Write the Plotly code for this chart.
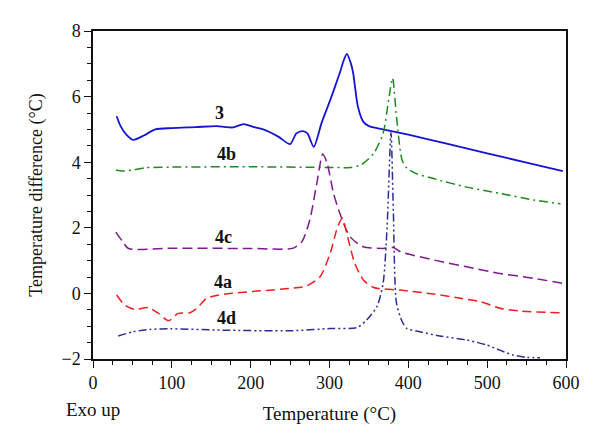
import plotly.graph_objects as go

# Curve 3
t3 = [30, 35, 42, 51, 65, 79, 100, 130, 157, 168, 178, 191, 203, 216, 235, 250, 258, 266, 272, 280, 290, 301, 313, 318, 322, 327, 330, 336, 343, 350, 360, 400, 450, 500, 550, 596]
y3 = [5.4, 5.1, 4.85, 4.68, 4.82, 5.0, 5.04, 5.07, 5.1, 5.07, 5.06, 5.16, 5.08, 5.0, 4.78, 4.55, 4.88, 4.95, 4.88, 4.47, 5.2, 5.9, 6.72, 7.1, 7.3, 7.02, 6.72, 5.7, 5.23, 5.1, 5.04, 4.84, 4.56, 4.27, 3.99, 3.73]

# Curve 4b
t4b = [29, 38, 50, 66, 100, 200, 300, 326, 340, 356, 368, 375, 380, 385, 392, 398, 410, 432, 474, 516, 559, 593]
y4b = [3.76, 3.73, 3.76, 3.83, 3.85, 3.86, 3.84, 3.84, 3.92, 4.27, 4.88, 5.9, 6.56, 5.38, 4.07, 3.82, 3.65, 3.5, 3.24, 3.05, 2.85, 2.73]

# Curve 4c
t4c = [29, 37, 45, 100, 200, 254, 265, 275, 284, 291.5, 297, 305, 313, 326, 343, 368, 381, 390, 432, 474, 516, 559, 595]
y4c = [1.87, 1.6, 1.37, 1.38, 1.37, 1.38, 1.58, 2.24, 3.37, 4.25, 3.97, 3.06, 2.45, 1.73, 1.42, 1.37, 1.40, 1.27, 1.02, 0.81, 0.61, 0.46, 0.31]

# Curve 4a
t4a = [30, 40, 53, 70, 83, 96, 108, 123, 132, 144, 165, 208, 250, 270, 288, 301, 309, 316, 324, 332, 343, 356, 390, 432, 466, 491, 516, 542, 593]
y4a = [-0.05, -0.35, -0.49, -0.43, -0.61, -0.83, -0.61, -0.59, -0.45, -0.15, -0.03, 0.07, 0.15, 0.22, 0.51, 1.23, 1.93, 2.29, 1.63, 0.92, 0.41, 0.18, 0.1, -0.02, -0.15, -0.25, -0.45, -0.54, -0.59]

# Curve 4d
t4d = [32, 51, 72, 98, 165, 250, 301, 335, 347, 360, 368, 373, 378, 381, 385, 392, 398, 415, 440, 474, 499, 516, 533, 550, 567]
y4d = [-1.30, -1.17, -1.1, -1.08, -1.12, -1.14, -1.07, -1.04, -0.81, -0.41, 0.31, 2.0, 4.9, 2.5, -0.3, -0.85, -1.07, -1.17, -1.3, -1.42, -1.57, -1.73, -1.88, -1.95, -1.96]

labels = ["3", "4b", "4c", "4a", "4d"]
label_x = [160, 169, 165, 165, 169]
label_y = [5.5, 4.25, 1.72, 0.35, -0.75]

series = [
    (t3, y3, "#1414d2", "solid", 1.8),
    (t4b, y4b, "#1f8a1f", "9px,4px,2px,4px", 1.5),
    (t4c, y4c, "#7d1a8c", "10px,5px", 1.5),
    (t4a, y4a, "#f01e1e", "9px,5px", 1.5),
    (t4d, y4d, "#2d2d96", "8px,3px,2px,3px,2px,3px", 1.5),
]

fig = go.Figure()
for xs, ys, col, dash, w in series:
    fig.add_trace(go.Scatter(x=xs, y=ys, mode="lines",
                             line=dict(color=col, width=w, dash=dash, shape="spline", smoothing=0.7),
                             showlegend=False, hoverinfo="skip"))

FONT = "Liberation Serif"
for lab, lx, ly in zip(labels, label_x, label_y):
    fig.add_annotation(x=lx, y=ly, text="<b>%s</b>" % lab, showarrow=False,
                       font=dict(family=FONT, size=18, color="#111"))

fig.add_annotation(xref="paper", yref="paper", x=0.0, y=-0.155, xanchor="center", yanchor="middle",
                   text="Exo up", showarrow=False, font=dict(family=FONT, size=19, color="#111"))

fig.update_layout(
    width=592, height=434,
    margin=dict(l=85, r=34, t=23, b=83),
    paper_bgcolor="white", plot_bgcolor="white",
    font=dict(family=FONT, size=18, color="#111"),
    xaxis=dict(range=[0, 600], tickvals=[0, 100, 200, 300, 400, 500, 600], automargin=False,
               ticks="outside", ticklen=7, tickwidth=1.2, tickcolor="#111",
               minor=dict(dtick=25, ticks="outside", ticklen=4, tickwidth=1, tickcolor="#111"),
               showline=True, linecolor="#111", linewidth=1.5, mirror=True,
               showgrid=False, zeroline=False, tickfont=dict(size=18),
               title=dict(text="Temperature (°C)", standoff=14, font=dict(size=19))),
    yaxis=dict(range=[-2, 8], tickvals=[-2, 0, 2, 4, 6, 8], automargin=False,
               ticks="outside", ticklen=7, tickwidth=1.2, tickcolor="#111",
               minor=dict(dtick=0.5, ticks="outside", ticklen=4, tickwidth=1, tickcolor="#111"),
               showline=True, linecolor="#111", linewidth=1.5, mirror=True,
               showgrid=False, zeroline=False, tickfont=dict(size=18),
               title=dict(text="Temperature difference (°C)", standoff=14, font=dict(size=18))),
)

fig.write_html("out.html")
